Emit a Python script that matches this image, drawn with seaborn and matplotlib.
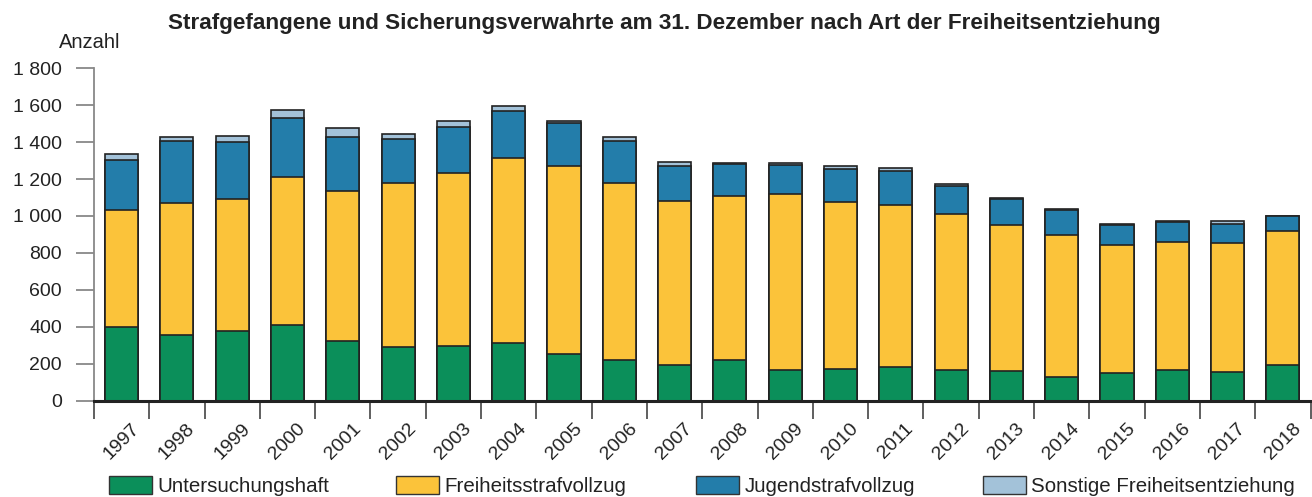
import matplotlib.pyplot as plt
import matplotlib.patches as mpatches
import numpy as np
import seaborn as sns

# ---- Data ----
years = [str(y) for y in range(1997, 2019)]
untersuchungshaft = [397, 354, 377, 408, 325, 291, 296, 311, 255, 220, 191,
                     220, 166, 170, 182, 168, 162, 128, 152, 168, 153, 191]
freiheitsstrafvollzug = [635, 716, 713, 805, 812, 886, 936, 1003, 1018, 957, 889,
                         888, 953, 906, 878, 845, 787, 769, 689, 689, 703, 728]
jugendstrafvollzug = [273, 334, 309, 316, 289, 238, 249, 253, 229, 231, 191,
                      172, 155, 180, 185, 149, 143, 135, 108, 109, 101, 81]
sonstige = [32, 26, 34, 45, 49, 27, 34, 31, 11, 18, 23,
            5, 15, 15, 17, 11, 7, 4, 9, 7, 18, 2]

labels = ["Untersuchungshaft", "Freiheitsstrafvollzug", "Jugendstrafvollzug",
          "Sonstige Freiheitsentziehung"]
colors = ["#0B8F5A", "#FBC33A", "#237DAA", "#A3C2D9"]
legend_x = [108, 395, 695, 982]  # left edge of each legend entry, pixels

# ---- Style ----
sns.set_style("ticks")
plt.rcParams['font.family'] = ['Liberation Sans', 'DejaVu Sans']
plt.rcParams['font.size'] = 14

# ---- Stacked bars (cumulative sums drawn from the top down) ----
stack = np.cumsum([untersuchungshaft, freiheitsstrafvollzug,
                   jugendstrafvollzug, sonstige], axis=0)

plt.figure(figsize=(13.12, 4.97), dpi=100)
ax = plt.gca()
for level in range(3, -1, -1):
    sns.barplot(x=years, y=stack[level], color=colors[level], saturation=1,
                width=0.6, edgecolor="#222222", linewidth=1.2, ax=ax)

plt.subplots_adjust(left=0.0716, right=0.9989, bottom=0.194, top=0.8626)
plt.ylim(0, 1800)
plt.xlim(-0.5, 21.5)
plt.yticks(range(0, 1801, 200),
           [f"{v:,}".replace(",", " ") for v in range(0, 1801, 200)])
ax.tick_params(axis='y', length=13, width=1.3, color="#888888", pad=10,
               labelcolor="#222222")
plt.xticks(range(len(years)), years, rotation=45, ha='center')
ax.tick_params(axis='x', which='major', length=0, pad=14, labelcolor="#222222")
ax.set_xticks(np.arange(-0.5, 21.6, 1), minor=True)
ax.tick_params(axis='x', which='minor', length=13, width=1.2, color="#444444")
plt.xlabel("")
plt.ylabel("")

sns.despine(top=True, right=True)
ax.spines['left'].set_color("#888888")
ax.spines['left'].set_linewidth(1.3)
ax.spines['bottom'].set_color("#222222")
ax.spines['bottom'].set_linewidth(2.2)

# ---- Texts ----
plt.figtext(0.506, 1 - 23 / 497,
            "Strafgefangene und Sicherungsverwahrte am 31. Dezember nach Art der Freiheitsentziehung",
            ha='center', va='center', fontweight='bold', fontsize=16.2, color="#222222")
plt.figtext(0.045, 1 - 42 / 497, "Anzahl", ha='left', va='center',
            fontsize=14.5, color="#222222")

# ---- Legend (one entry per legend, placed like the original) ----
for c, l, x in zip(colors, labels, legend_x):
    handle = mpatches.Patch(facecolor=c, edgecolor="#333333", linewidth=1, label=l)
    plt.figlegend(handles=[handle], loc='lower left', bbox_to_anchor=(x / 1312, 0.0),
                  frameon=False, handlelength=2.1, handleheight=0.95,
                  handletextpad=0.25, borderpad=0.05, borderaxespad=0.0,
                  fontsize=14.8, labelcolor="#222222")

plt.savefig("out.png", dpi=100)
